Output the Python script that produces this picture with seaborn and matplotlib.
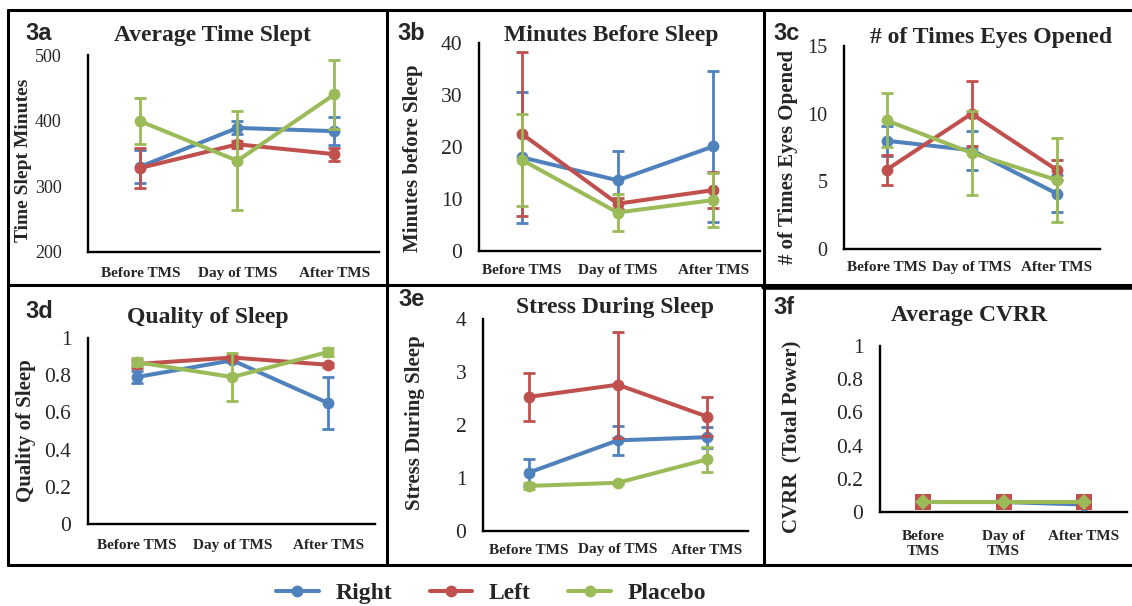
import matplotlib
matplotlib.use('Agg')
import matplotlib.pyplot as plt
from matplotlib.lines import Line2D
import seaborn as sns
import pandas as pd

phases = ['Before TMS', 'Day of TMS', 'After TMS']
phases_f = ['Before\nTMS', 'Day of\nTMS', 'After TMS']
groups = ['Right', 'Left', 'Placebo']
colors = ['#4F81BD', '#C0504D', '#9BBB59']

# 3a average time slept (minutes)
slept_right = [330, 389, 384]
slept_right_err = [25, 10, 21]
slept_left = [328, 364, 349]
slept_left_err = [30, 5, 10]
slept_placebo = [399, 339, 440]
slept_placebo_err = [35, 75, 52]

# 3b minutes before sleep
before_right = [18.0, 13.6, 20.1]
before_right_err = [12.6, 5.7, 14.6]
before_left = [22.5, 9.1, 11.7]
before_left_err = [15.8, 1.0, 3.4]
before_placebo = [17.5, 7.4, 9.8]
before_placebo_err = [8.8, 3.6, 5.2]

# 3c times eyes opened
eyes_right = [8.0, 7.3, 4.1]
eyes_right_err = [1.1, 1.45, 1.35]
eyes_left = [5.85, 10.0, 5.85]
eyes_left_err = [1.1, 2.4, 0.75]
eyes_placebo = [9.5, 7.1, 5.1]
eyes_placebo_err = [2.0, 3.1, 3.1]

# 3d quality of sleep
quality_right = [0.79, 0.88, 0.65]
quality_right_err = [0.03, 0.01, 0.14]
quality_left = [0.86, 0.895, 0.856]
quality_left_err = [0.02, 0.01, 0.01]
quality_placebo = [0.87, 0.79, 0.925]
quality_placebo_err = [0.02, 0.13, 0.02]

# 3e stress during sleep
stress_right = [1.10, 1.71, 1.77]
stress_right_err = [0.25, 0.28, 0.2]
stress_left = [2.53, 2.76, 2.16]
stress_left_err = [0.46, 1.0, 0.37]
stress_placebo = [0.85, 0.91, 1.35]
stress_placebo_err = [0.05, 0.02, 0.24]

# 3f average CVRR
cvrr_right = [0.06, 0.06, 0.045]
cvrr_left = [0.06, 0.06, 0.06]
cvrr_placebo = [0.06, 0.06, 0.06]
cvrr_err = [0, 0, 0]

sns.set_style('white')
plt.rcParams['font.family'] = ['Liberation Serif', 'DejaVu Serif']

W, H = 1132, 606


def fx(x):
    return x / W


def fy(y):
    return 1 - y / H


fig = plt.figure(figsize=(11.32, 6.06), dpi=100)

panels = [
    dict(tag='3a', title='Average Time Slept', ylabel='Time Slept Minutes',
         vals=[slept_right, slept_left, slept_placebo],
         errs=[slept_right_err, slept_left_err, slept_placebo_err],
         box=(88, 55, 379, 252), xlim=(-0.54, 2.46), ylim=(200, 500), yticks=[200, 300, 400, 500],
         tpos=(212, 35), lpos=(25, 33), ylpos=(24, 160), ysize=13, ypad=19, xpad=10.5, x=phases,
         ylsize=14),
    dict(tag='3b', title='Minutes Before Sleep', ylabel='Minutes before Sleep',
         vals=[before_right, before_left, before_placebo],
         errs=[before_right_err, before_left_err, before_placebo_err],
         box=(479, 43, 760, 251), xlim=(-0.45, 2.49), ylim=(0, 40), yticks=[0, 10, 20, 30, 40],
         tpos=(611, 35), lpos=(397, 33), ylpos=(413, 158), ysize=15.5, ypad=12, xpad=9.5, x=phases),
    dict(tag='3c', title='# of Times Eyes Opened', ylabel='# of Times Eyes Opened',
         vals=[eyes_right, eyes_left, eyes_placebo],
         errs=[eyes_right_err, eyes_left_err, eyes_placebo_err],
         box=(844, 46, 1100, 249), xlim=(-0.5, 2.51), ylim=(0, 15), yticks=[0, 5, 10, 15],
         tpos=(991, 37), lpos=(773, 33), ylpos=(788, 157), ysize=14.5, ypad=12, xpad=9, x=phases),
    dict(tag='3d', title='Quality of Sleep', ylabel='Quality of Sleep',
         vals=[quality_right, quality_left, quality_placebo],
         errs=[quality_right_err, quality_left_err, quality_placebo_err],
         box=(88, 338, 375, 524), xlim=(-0.51, 2.49), ylim=(0, 1), yticks=[0, 0.2, 0.4, 0.6, 0.8, 1],
         tpos=(208, 318), lpos=(25, 312), ylpos=(26, 431), ysize=15.5, ypad=12, xpad=10.5, x=phases),
    dict(tag='3e', title='Stress During Sleep', ylabel='Stress During Sleep',
         vals=[stress_right, stress_left, stress_placebo],
         errs=[stress_right_err, stress_left_err, stress_placebo_err],
         box=(483, 319, 748, 531), xlim=(-0.51, 2.46), ylim=(0, 4), yticks=[0, 1, 2, 3, 4],
         tpos=(615, 308), lpos=(398, 300), ylpos=(415, 423), ysize=15.5, ypad=12, xpad=9, x=phases),
    dict(tag='3f', title='Average CVRR', ylabel='CVRR  (Total Power)',
         vals=[cvrr_right, cvrr_left, cvrr_placebo],
         errs=[cvrr_err, cvrr_err, cvrr_err],
         box=(880, 346, 1127, 512), xlim=(-0.54, 2.54), ylim=(0, 1), yticks=[0, 0.2, 0.4, 0.6, 0.8, 1],
         tpos=(969, 315), lpos=(773, 308), ylpos=(791, 437), ysize=15.5, ypad=12, xpad=13, x=phases_f,
         markers=['o', 's', 'D'], msizes=[8.5, 11, 8]),
]

first_ax = None
for p in panels:
    l, t, r, b = p['box']
    ax = fig.add_axes([fx(l), fy(b), (r - l) / W, (b - t) / H])
    markers = p.get('markers', ['o', 'o', 'o'])
    msizes = p.get('msizes', [8.5, 8.5, 8.5])
    for i, g in enumerate(groups):
        df = pd.DataFrame({'phase': p['x'], 'value': p['vals'][i], 'err': p['errs'][i]})
        sns.lineplot(data=df, x='phase', y='value', color=colors[i], marker=markers[i],
                     markersize=msizes[i], markeredgewidth=0, linewidth=2.9, sort=False,
                     label=g, legend=False, ax=ax, zorder=3 + i)
        ax.errorbar(df['phase'], df['value'], yerr=df['err'], fmt='none', ecolor=colors[i],
                    elinewidth=2, capsize=4.5, capthick=2, zorder=3 + i)
    ax.set_xlim(*p['xlim'])
    ax.set_ylim(*p['ylim'])
    ax.set_xticks(range(3), labels=p['x'], fontweight='bold', fontsize=11)
    ax.set_yticks(p['yticks'], labels=[f'{v:g}' for v in p['yticks']], fontsize=p['ysize'])
    ax.tick_params(axis='y', length=0, pad=p['ypad'])
    ax.tick_params(axis='x', length=0, pad=p['xpad'])
    ax.set_xlabel('')
    ax.set_ylabel('')
    sns.despine(ax=ax)
    for side in ['left', 'bottom']:
        ax.spines[side].set_linewidth(1.7)
        ax.spines[side].set_color('black')
    ax.patch.set_alpha(0)

    fig.text(fx(p['tpos'][0]), fy(p['tpos'][1]), p['title'], ha='center', va='center',
             fontsize=17, fontweight='bold')
    fig.text(fx(p['lpos'][0]), fy(p['lpos'][1]), p['tag'], ha='left', va='center',
             fontsize=17, fontweight='bold', family=['Liberation Sans', 'DejaVu Sans'])
    fig.text(fx(p['ylpos'][0]), fy(p['ylpos'][1]), p['ylabel'], ha='center', va='center',
             rotation=90, fontsize=p.get('ylsize', 15), fontweight='bold')
    if first_ax is None:
        first_ax = ax

# panel frames
frame = dict(color='black', lw=2.2, transform=fig.transFigure)
for y in [10, 285, 565]:
    fig.add_artist(Line2D([fx(8), fx(1132)], [fy(y), fy(y)], **frame))
for x in [8, 387, 764]:
    fig.add_artist(Line2D([fx(x), fx(x)], [fy(10), fy(565)], **frame))
fig.add_artist(Line2D([fx(764), fx(1132)], [fy(287), fy(287)], color='black', lw=4,
                      transform=fig.transFigure))

handles, labels = first_ax.get_legend_handles_labels()
lookup = dict(zip(labels, handles))
fig.legend([lookup[g] for g in groups], groups, loc='center', ncol=3, frameon=False,
           bbox_to_anchor=(fx(491), fy(593)), prop=dict(size=17, weight='bold'),
           handlelength=1.8, handletextpad=0.7, columnspacing=1.6, borderpad=0)

fig.savefig('out.png', dpi=100)
